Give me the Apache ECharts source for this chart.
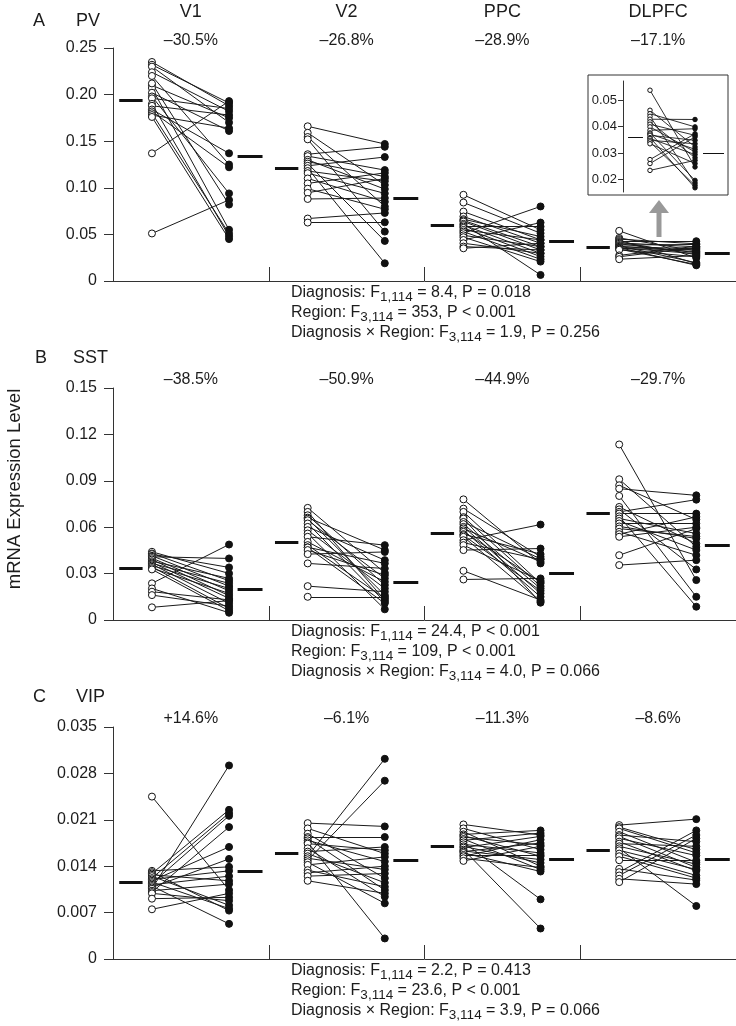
<!DOCTYPE html>
<html>
<head>
<meta charset="utf-8">
<script src="https://cdn.jsdelivr.net/npm/echarts@6/dist/echarts.min.js"></script>
<style>
  html, body { margin: 0; background: #fff; }
  #main { width: 736px; height: 1026px; }
</style>
</head>
<body>
<div id="main"></div>
<script>
const regions = ['V1', 'V2', 'PPC', 'DLPFC'];

// PV (panel A), one row per region, control i is paired with patient i
const pvCtrl = [
  [0.235, 0.232, 0.230, 0.224, 0.220, 0.210, 0.207, 0.202, 0.198, 0.196, 0.190, 0.188, 0.184, 0.182, 0.180, 0.178, 0.176, 0.137, 0.051, 0.212],
  [0.166, 0.159, 0.1545, 0.152, 0.136, 0.134, 0.130, 0.128, 0.126, 0.1236, 0.121, 0.118, 0.1157, 0.110, 0.1047, 0.099, 0.0946, 0.088, 0.067, 0.0627],
  [0.0925, 0.0842, 0.0745, 0.0692, 0.0663, 0.065, 0.0638, 0.0613, 0.060, 0.0584, 0.057, 0.0548, 0.053, 0.0513, 0.049, 0.047, 0.044, 0.0405, 0.0369, 0.0351],
  [0.0538, 0.0462, 0.0449, 0.0439, 0.0428, 0.0418, 0.0409, 0.0399, 0.0386, 0.0376, 0.0372, 0.0367, 0.0358, 0.0355, 0.0348, 0.0342, 0.0335, 0.0275, 0.026, 0.0234]
];
const pvPat = [
  [0.188, 0.191, 0.170, 0.182, 0.125, 0.175, 0.055, 0.161, 0.094, 0.185, 0.048, 0.178, 0.137, 0.122, 0.051, 0.164, 0.045, 0.193, 0.087, 0.082],
  [0.147, 0.103, 0.080, 0.053, 0.144, 0.119, 0.0986, 0.112, 0.043, 0.133, 0.019, 0.107, 0.094, 0.085, 0.116, 0.077, 0.110, 0.089, 0.073, 0.063],
  [0.0548, 0.0513, 0.0441, 0.0405, 0.0477, 0.0369, 0.0333, 0.0065, 0.0297, 0.0584, 0.0262, 0.0441, 0.0233, 0.080, 0.0369, 0.0208, 0.0627, 0.0297, 0.0333, 0.0405],
  [0.0247, 0.0323, 0.0399, 0.0186, 0.0427, 0.0282, 0.0367, 0.0304, 0.0392, 0.0196, 0.0314, 0.0348, 0.0168, 0.0294, 0.0335, 0.0177, 0.026, 0.0373, 0.0361, 0.0272]
];
const pvCtrlMean = [0.194, 0.121, 0.0595, 0.036];
const pvPatMean = [0.134, 0.0889, 0.043, 0.030];

// SST (panel B)
const sstCtrl = [
  [0.0441, 0.0430, 0.0426, 0.0415, 0.0409, 0.040, 0.0391, 0.038, 0.0372, 0.0366, 0.036, 0.0352, 0.0344, 0.0335, 0.0327, 0.0237, 0.0204, 0.0183, 0.0161, 0.0082],
  [0.0725, 0.0699, 0.0677, 0.0662, 0.0655, 0.0645, 0.0624, 0.0602, 0.058, 0.0559, 0.0538, 0.0505, 0.0484, 0.047, 0.0469, 0.0452, 0.0426, 0.0366, 0.0219, 0.015],
  [0.078, 0.072, 0.0699, 0.0665, 0.0656, 0.0634, 0.062, 0.0602, 0.0592, 0.058, 0.057, 0.0555, 0.0548, 0.0538, 0.0516, 0.050, 0.0484, 0.0452, 0.0318, 0.0262],
  [0.1135, 0.091, 0.0871, 0.0849, 0.0802, 0.0731, 0.0715, 0.0699, 0.0688, 0.067, 0.0656, 0.064, 0.0624, 0.0605, 0.0591, 0.057, 0.0555, 0.0538, 0.0419, 0.0355]
];
const sstPat = [
  [0.0301, 0.0254, 0.034, 0.0219, 0.0398, 0.0189, 0.0157, 0.0269, 0.014, 0.0237, 0.0108, 0.0204, 0.0075, 0.0172, 0.006, 0.0488, 0.0047, 0.013, 0.009, 0.0125],
  [0.0305, 0.0129, 0.0226, 0.0452, 0.0161, 0.0269, 0.0118, 0.0387, 0.0204, 0.0069, 0.0484, 0.0247, 0.014, 0.0366, 0.0108, 0.029, 0.044, 0.0333, 0.0183, 0.015],
  [0.0366, 0.0409, 0.0237, 0.0219, 0.0112, 0.0395, 0.0204, 0.0172, 0.0376, 0.015, 0.0245, 0.0426, 0.0189, 0.012, 0.0617, 0.0391, 0.0254, 0.0462, 0.0129, 0.0269],
  [0.0258, 0.0473, 0.0649, 0.0806, 0.015, 0.0494, 0.0327, 0.0778, 0.0688, 0.0086, 0.0559, 0.0452, 0.0624, 0.0527, 0.054, 0.0419, 0.0667, 0.06, 0.0591, 0.0387]
];
const sstCtrlMean = [0.0333, 0.0505, 0.0559, 0.0688];
const sstPatMean = [0.020, 0.0247, 0.0305, 0.0484];

// VIP (panel C)
const vipCtrl = [
  [0.0245, 0.0133, 0.0131, 0.0129, 0.0127, 0.0125, 0.0122, 0.012, 0.0118, 0.0116, 0.0114, 0.0112, 0.011, 0.0108, 0.0106, 0.0103, 0.0101, 0.0099, 0.0091, 0.0075],
  [0.0205, 0.0197, 0.0189, 0.0184, 0.0182, 0.0179, 0.0176, 0.0174, 0.0167, 0.0162, 0.0159, 0.0155, 0.0152, 0.0149, 0.0146, 0.0142, 0.0134, 0.013, 0.0125, 0.0118],
  [0.0203, 0.0197, 0.0192, 0.0188, 0.0186, 0.0184, 0.0181, 0.0179, 0.0176, 0.0173, 0.017, 0.0168, 0.0165, 0.0163, 0.0162, 0.016, 0.0157, 0.0155, 0.0152, 0.0148],
  [0.0202, 0.0199, 0.0197, 0.0192, 0.0187, 0.0185, 0.0182, 0.0177, 0.0174, 0.017, 0.0167, 0.0164, 0.0159, 0.0155, 0.0149, 0.0136, 0.0131, 0.0126, 0.0121, 0.0116]
];
const vipPat = [
  [0.0104, 0.0139, 0.0073, 0.0225, 0.0118, 0.0081, 0.022, 0.0133, 0.0169, 0.0076, 0.0216, 0.0125, 0.0053, 0.0151, 0.0292, 0.0113, 0.0199, 0.0088, 0.0093, 0.0099],
  [0.02, 0.0159, 0.0122, 0.0184, 0.0104, 0.0147, 0.0031, 0.0164, 0.0094, 0.0169, 0.0115, 0.0302, 0.0135, 0.0269, 0.0084, 0.0154, 0.0109, 0.014, 0.0129, 0.0099],
  [0.0187, 0.0165, 0.014, 0.0194, 0.0155, 0.0172, 0.0135, 0.019, 0.009, 0.016, 0.0145, 0.0185, 0.0046, 0.015, 0.0175, 0.0132, 0.0157, 0.018, 0.0138, 0.017],
  [0.0211, 0.0165, 0.016, 0.0146, 0.0177, 0.0138, 0.0156, 0.0133, 0.017, 0.0143, 0.008, 0.0135, 0.0126, 0.0122, 0.0149, 0.0119, 0.0194, 0.0187, 0.0113, 0.0182]
];
const vipCtrlMean = [0.01155, 0.0159, 0.017, 0.0164];
const vipPatMean = [0.0133, 0.0149, 0.015, 0.015];

const pvChange = ['\u201330.5%', '\u201326.8%', '\u201328.9%', '\u201317.1%'];
const sstChange = ['\u201338.5%', '\u201350.9%', '\u201344.9%', '\u201329.7%'];
const vipChange = ['+14.6%', '\u20136.1%', '\u201311.3%', '\u20138.6%'];

const pvStats = ['8.4, P = 0.018', '353, P < 0.001', '1.9, P = 0.256'];
const sstStats = ['24.4, P < 0.001', '109, P < 0.001', '4.0, P = 0.066'];
const vipStats = ['2.2, P = 0.413', '23.6, P < 0.001', '3.9, P = 0.066'];

const pvTicks = { max: 0.25, interval: 0.05, digits: 2 };
const sstTicks = { max: 0.15, interval: 0.03, digits: 2 };
const vipTicks = { max: 0.035, interval: 0.007, digits: 3 };
const insetTicks = [0.02, 0.03, 0.04, 0.05];

const FONT = 'Liberation Sans, Arial, sans-serif';
const INK = '#1c1c1c';

// positions inside one region band (band width = 1)
const XC = 0.25, XP = 0.745;
const MC = [0.04, 0.19], MP = [0.80, 0.96];
// inset positions
const XC_IN = 0.257, XP_IN = 0.686;
const MC_IN = [0.048, 0.19], MP_IN = [0.762, 0.962];

function pairLines(ctrl, pat, xc, xp, ax, width) {
  const data = [];
  ctrl.forEach((vals, r) => vals.forEach((c, i) => {
    data.push({ coords: [[r + xc, c], [r + xp, pat[r][i]]] });
  }));
  return {
    type: 'lines', coordinateSystem: 'cartesian2d', xAxisIndex: ax, yAxisIndex: ax,
    data, silent: true, z: 2,
    lineStyle: { color: '#1a1a1a', width: width, opacity: 1 }
  };
}

function meanBars(cm, pm, mc, mp, ax, width) {
  const data = [];
  cm.forEach((m, r) => {
    data.push({ coords: [[r + mc[0], m], [r + mc[1], m]] });
    data.push({ coords: [[r + mp[0], pm[r]], [r + mp[1], pm[r]]] });
  });
  return {
    type: 'lines', coordinateSystem: 'cartesian2d', xAxisIndex: ax, yAxisIndex: ax,
    data, silent: true, z: 2,
    lineStyle: { color: '#111', width: width, opacity: 1, cap: 'butt' }
  };
}

function dots(vals, x, ax, size, filled) {
  const data = [];
  vals.forEach((row, r) => row.forEach(v => data.push([r + x, v])));
  return {
    type: 'scatter', xAxisIndex: ax, yAxisIndex: ax, data, silent: true, z: 3,
    symbol: 'circle', symbolSize: size,
    itemStyle: { color: filled ? '#111' : '#fff', borderColor: '#111', borderWidth: 1, opacity: 1 }
  };
}

function panelSeries(ctrl, pat, cm, pm, ax) {
  return [
    pairLines(ctrl, pat, XC, XP, ax, 1),
    meanBars(cm, pm, MC, MP, ax, 3),
    dots(ctrl, XC, ax, 7, false),
    dots(pat, XP, ax, 7, true)
  ];
}

function mainY(ax, t) {
  return {
    type: 'value', gridIndex: ax, min: 0, max: t.max, interval: t.interval,
    axisLine: { show: true, lineStyle: { color: '#333', width: 1 } },
    axisTick: { show: true, inside: false, length: 9, lineStyle: { color: '#333' } },
    axisLabel: {
      fontSize: 16, fontFamily: FONT, color: INK, margin: 16,
      formatter: v => (v === 0 ? '0' : v.toFixed(t.digits))
    },
    splitLine: { show: false }
  };
}

function mainX(ax) {
  return {
    type: 'value', gridIndex: ax, min: 0, max: 4, interval: 1,
    axisLine: { show: true, onZero: false, lineStyle: { color: '#333', width: 1 } },
    axisTick: { show: true, inside: true, length: 14, lineStyle: { color: '#333' } },
    axisLabel: { show: false },
    splitLine: { show: false }
  };
}

const titles = [];
function txt(x, y, text, size, align) {
  titles.push({
    text: text, left: x, top: y, padding: 0, textAlign: align || 'left', textVerticalAlign: 'top',
    textStyle: { fontSize: size, fontFamily: FONT, fontWeight: 'normal', color: INK }
  });
}

const bandLeft = 113, bandW = 623 / 4;
const centers = regions.map((r, i) => bandLeft + bandW * (i + 0.5));

// panel letters and gene names
txt(33, 12, 'A', 18); txt(76, 12, 'PV', 18);
txt(35, 349, 'B', 18); txt(73, 349, 'SST', 18);
txt(33, 688, 'C', 18); txt(76, 688, 'VIP', 18);
regions.forEach((r, i) => txt(centers[i], 3, r, 18, 'center'));
pvChange.forEach((s, i) => txt(centers[i], 33, s, 16, 'center'));
sstChange.forEach((s, i) => txt(centers[i], 372, s, 16, 'center'));
vipChange.forEach((s, i) => txt(centers[i], 711, s, 16, 'center'));

function statsBlock(y, stats) {
  const text = [
    'Diagnosis: F{sub|1,114} = ' + stats[0],
    'Region: F{sub|3,114} = ' + stats[1],
    'Diagnosis \u00d7 Region: F{sub|3,114} = ' + stats[2]
  ].join('\n');
  titles.push({
    text: text, left: 291, top: y, padding: 0, textAlign: 'left', textVerticalAlign: 'top',
    textStyle: {
      fontSize: 16, fontFamily: FONT, fontWeight: 'normal', color: INK, lineHeight: 20,
      rich: { sub: { fontSize: 13.5, fontFamily: FONT, color: INK, lineHeight: 20, padding: [9, 0, 0, 0] } }
    }
  });
}
statsBlock(283, pvStats);
statsBlock(622, sstStats);
statsBlock(961, vipStats);

const option = {
  animation: false,
  backgroundColor: '#fff',
  title: titles,
  grid: [
    { left: 113, right: 0, top: 48, height: 233 },
    { left: 113, right: 0, top: 388, height: 232 },
    { left: 113, right: 0, top: 727, height: 232 },
    { left: 623, top: 81, width: 105, height: 111 }
  ],
  xAxis: [
    mainX(0), mainX(1), mainX(2),
    { type: 'value', gridIndex: 3, min: 0, max: 1, show: false }
  ],
  yAxis: [
    mainY(0, pvTicks), mainY(1, sstTicks), mainY(2, vipTicks),
    {
      type: 'value', gridIndex: 3, min: 0.0152, max: 0.0573,
      axisLine: { show: true, lineStyle: { color: '#333', width: 1 } },
      axisTick: { show: true, length: 5, customValues: insetTicks, lineStyle: { color: '#333' } },
      axisLabel: {
        customValues: insetTicks, fontSize: 13, fontFamily: FONT, color: INK, margin: 6,
        formatter: v => v.toFixed(2)
      },
      splitLine: { show: false }
    }
  ],
  graphic: [
    {
      type: 'text', x: 15, y: 489, rotation: Math.PI / 2,
      style: { text: 'mRNA Expression Level', font: '18.5px ' + FONT, fill: INK, textAlign: 'center', textVerticalAlign: 'middle' }
    },
    {
      type: 'rect', shape: { x: 588, y: 75, width: 140, height: 120 },
      style: { fill: 'none', stroke: '#333', lineWidth: 1 }
    },
    {
      type: 'rect', shape: { x: 656.5, y: 212, width: 5, height: 25 },
      style: { fill: '#999' }
    },
    {
      type: 'polygon', shape: { points: [[649, 213], [669, 213], [659, 200]] },
      style: { fill: '#999' }
    }
  ],
  series: [].concat(
    panelSeries(pvCtrl, pvPat, pvCtrlMean, pvPatMean, 0),
    panelSeries(sstCtrl, sstPat, sstCtrlMean, sstPatMean, 1),
    panelSeries(vipCtrl, vipPat, vipCtrlMean, vipPatMean, 2),
    [
      pairLines([pvCtrl[3]], [pvPat[3]], XC_IN, XP_IN, 3, 0.9),
      meanBars([pvCtrlMean[3]], [pvPatMean[3]], MC_IN, MP_IN, 3, 1.2),
      dots([pvCtrl[3]], XC_IN, 3, 4.5, false),
      dots([pvPat[3]], XP_IN, 3, 4.5, true)
    ]
  )
};

const chart = echarts.init(document.getElementById('main'));
chart.setOption(option);
</script>
</body>
</html>
